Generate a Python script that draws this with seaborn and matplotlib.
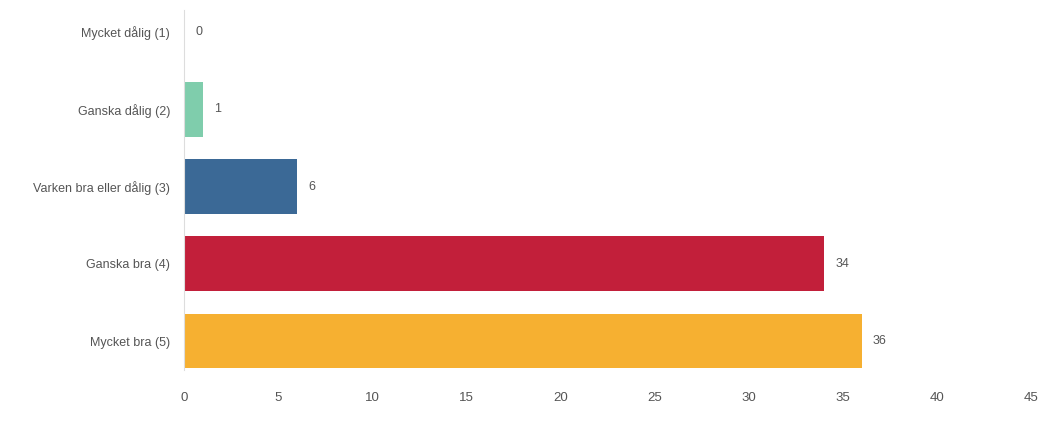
import pandas as pd
import matplotlib.pyplot as plt
import seaborn as sns

categories = ["Mycket dålig (1)", "Ganska dålig (2)", "Varken bra eller dålig (3)",
              "Ganska bra (4)", "Mycket bra (5)"]
counts = [0, 1, 6, 34, 36]
colors = ["#7fcdac", "#7fcdac", "#3b6996", "#c21f3a", "#f6b031"]
xticks = [0, 5, 10, 15, 20, 25, 30, 35, 40, 45]

df = pd.DataFrame({"kategori": categories, "antal": counts})

sns.set_style("white")
plt.rcParams['font.family'] = ['Liberation Sans', 'DejaVu Sans']

fig = plt.figure(figsize=(10.63, 4.37), dpi=100)
ax = fig.add_axes([0.1731, 0.1533, 0.7969, 0.8238])

sns.barplot(data=df, y="kategori", x="antal", hue="kategori", palette=colors,
            orient="h", width=0.71, legend=False, ax=ax, saturation=1,
            linewidth=0)

for cont in ax.containers:
    ax.bar_label(cont, padding=8, fontsize=9, color="#555555")

ax.set_xlim(0, 45)
ax.set_ylim(4.375, -0.285)
ax.set_xticks(xticks)
ax.set_xlabel("")
ax.set_ylabel("")
ax.tick_params(axis="x", length=0, pad=16, labelsize=9.5, labelcolor="#555555")
ax.tick_params(axis="y", length=0, pad=10, labelsize=9, labelcolor="#555555")

for s in ["top", "right", "bottom"]:
    ax.spines[s].set_visible(False)
ax.spines["left"].set_color("#dddddd")
ax.spines["left"].set_linewidth(0.8)

fig.savefig("out.png", dpi=100)
